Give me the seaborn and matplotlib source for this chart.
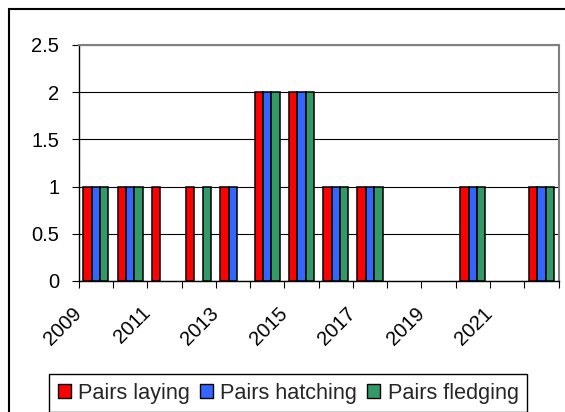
import matplotlib
matplotlib.use("Agg")
import matplotlib.pyplot as plt
from matplotlib.patches import Rectangle, Patch
import numpy as np
import pandas as pd
import seaborn as sns

# Breeding record per season
years = [str(y) for y in range(2009, 2023)]
pairs_laying = [1, 1, 1, 1, 1, 2, 2, 1, 1, 0, 0, 1, 0, 1]
pairs_hatching = [1, 1, 0, 0, 1, 2, 2, 1, 1, 0, 0, 1, 0, 1]
pairs_fledging = [1, 1, 0, 1, 0, 2, 2, 1, 1, 0, 0, 1, 0, 1]
series_names = ["Pairs laying", "Pairs hatching", "Pairs fledging"]
series_colors = ["#FF0000", "#3366FF", "#339966"]
y_ticks = [0, 0.5, 1, 1.5, 2, 2.5]
y_tick_labels = ["0", "0.5", "1", "1.5", "2", "2.5"]

df = pd.DataFrame({
    "year": years * 3,
    "pairs": pairs_laying + pairs_hatching + pairs_fledging,
    "series": [series_names[0]] * len(years)
    + [series_names[1]] * len(years)
    + [series_names[2]] * len(years),
})

sns.set_style("white")
plt.rcParams["font.family"] = ["Liberation Sans", "DejaVu Sans"]

W, H = 565, 412
fig = plt.figure(figsize=(W / 100, H / 100), dpi=100)
left, right, top, bottom = 78.7, 558.5, 45, 281
ax = fig.add_axes([left / W, 1 - bottom / H, (right - left) / W, (bottom - top) / H])

sns.barplot(data=df, x="year", y="pairs", hue="series", hue_order=series_names,
            palette=series_colors, width=0.73, saturation=1, errorbar=None,
            edgecolor="black", linewidth=1.1, ax=ax, legend=False, zorder=3)

# empty seasons leave a gap rather than a flat outline
for bar in ax.patches:
    if bar.get_height() == 0:
        bar.set_visible(False)

ax.set_xlim(-0.5, len(years) - 0.5)
ax.set_ylim(0, 2.5)
ax.set_xlabel("")
ax.set_ylabel("")

# horizontal gridlines
ax.set_axisbelow(True)
ax.yaxis.grid(True, color="black", linewidth=0.8)
ax.xaxis.grid(False)

ax.set_yticks(y_ticks)
ax.set_yticklabels(y_tick_labels)

# category boundaries carry the tick marks; every other year is labelled
bounds = np.arange(-0.5, len(years), 1)
labels = []
for i in range(len(bounds)):
    labels.append(years[i] if (i % 2 == 0 and i < len(years)) else "")
ax.set_xticks(bounds)
ax.set_xticklabels(labels)

ax.tick_params(axis="y", left=True, length=5, width=0.8, color="black",
               pad=9, labelsize=14.5, labelcolor="black")
ax.tick_params(axis="x", bottom=True, length=5, width=0.8, color="black",
               pad=16, labelsize=14.5, labelcolor="black")
for t in ax.get_xticklabels():
    t.set_rotation(45)
    t.set_ha("right")
    t.set_va("center")
    t.set_rotation_mode("anchor")

for side in ["left", "bottom"]:
    ax.spines[side].set_color("black")
    ax.spines[side].set_linewidth(1.0)
for side in ["top", "right"]:
    ax.spines[side].set_visible(True)
    ax.spines[side].set_color("#808080")
    ax.spines[side].set_linewidth(1.5)

# chart-area frame
fig.patches.append(Rectangle((9 / W, -0.2), 1.2, 1 - 9 / H + 0.2,
                             transform=fig.transFigure, fill=False,
                             edgecolor="black", linewidth=1.5))

handles = [Patch(facecolor=c, edgecolor="black", linewidth=1.0) for c in series_colors]
leg = fig.legend(handles, series_names, loc="upper left",
                 bbox_to_anchor=(49 / W, 1 - 374 / H), bbox_transform=fig.transFigure,
                 ncol=3, frameon=True, fancybox=False, framealpha=1,
                 edgecolor="black", fontsize=15.6, borderpad=0.4,
                 handlelength=0.6, handleheight=0.6, handletextpad=0.35,
                 columnspacing=0.45, borderaxespad=0)
leg.get_frame().set_linewidth(1.0)

fig.savefig("out.png", dpi=100)
